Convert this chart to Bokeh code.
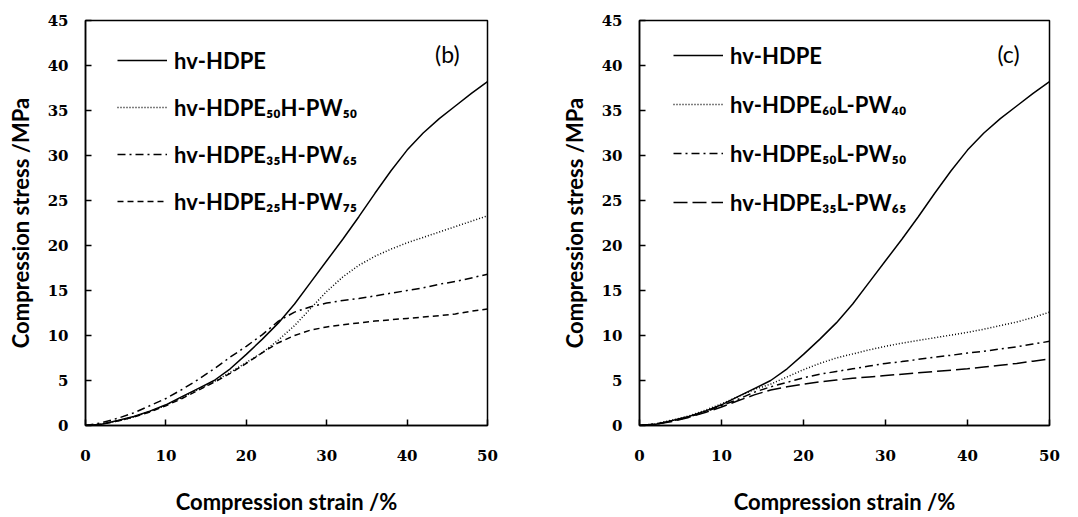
from bokeh.plotting import figure
from bokeh.layouts import row
from bokeh.models import Legend, LegendItem, Label, Range1d, FixedTicker
from bokeh.embed import file_html
from bokeh.resources import INLINE

# ---------------- data ----------------
strain = [0, 2, 4, 6, 8, 10, 12, 14, 16, 18, 20, 22, 24, 26, 28, 30,
          32, 34, 36, 38, 40, 42, 44, 46, 48, 50]

hv_hdpe = [0, 0.15, 0.55, 1.0, 1.6, 2.3, 3.2, 4.1, 5.0, 6.3, 7.9, 9.6, 11.4,
           13.5, 15.9, 18.3, 20.7, 23.2, 25.8, 28.3, 30.6, 32.5, 34.1, 35.5,
           36.9, 38.2]

# panel (b)
h_pw50 = [0, 0.15, 0.5, 0.95, 1.55, 2.25, 3.1, 4.0, 4.9, 5.9, 7.0, 8.1, 9.5,
          11.1, 13.0, 14.9, 16.5, 17.8, 18.8, 19.6, 20.3, 20.9, 21.5, 22.1,
          22.7, 23.3]
h_pw65 = [0, 0.3, 0.8, 1.4, 2.2, 3.0, 4.0, 5.1, 6.3, 7.6, 8.8, 10.1, 11.6,
          12.6, 13.2, 13.6, 13.9, 14.1, 14.4, 14.7, 15.0, 15.3, 15.7, 16.0,
          16.4, 16.8]
h_pw75 = [0, 0.15, 0.5, 0.95, 1.5, 2.2, 3.0, 3.9, 4.8, 5.8, 6.9, 8.1, 9.2,
          10.0, 10.6, 10.95, 11.2, 11.4, 11.6, 11.75, 11.9, 12.05, 12.2, 12.4,
          12.7, 12.95]

# panel (c)
l_pw40 = [0, 0.2, 0.6, 1.05, 1.7, 2.4, 3.2, 4.0, 4.6, 5.4, 6.2, 6.9, 7.5,
          7.95, 8.4, 8.8, 9.15, 9.45, 9.75, 10.05, 10.35, 10.7, 11.1, 11.5,
          12.0, 12.6]
l_pw50 = [0, 0.15, 0.5, 0.95, 1.5, 2.2, 2.9, 3.7, 4.3, 4.8, 5.3, 5.7, 6.0,
          6.3, 6.6, 6.9, 7.1, 7.35, 7.6, 7.8, 8.05, 8.25, 8.5, 8.75, 9.05, 9.35]
l_pw65 = [0, 0.15, 0.45, 0.9, 1.45, 2.05, 2.75, 3.4, 3.95, 4.3, 4.6, 4.85,
          5.05, 5.25, 5.4, 5.55, 5.7, 5.85, 6.0, 6.15, 6.3, 6.5, 6.7, 6.9,
          7.15, 7.4]

labels_b = ["hv-HDPE", "hv-HDPE₅₀H-PW₅₀", "hv-HDPE₃₅H-PW₆₅", "hv-HDPE₂₅H-PW₇₅"]
labels_c = ["hv-HDPE", "hv-HDPE₆₀L-PW₄₀", "hv-HDPE₅₀L-PW₅₀", "hv-HDPE₃₅L-PW₆₅"]
x_ticks = [0, 10, 20, 30, 40, 50]
y_ticks = [0, 5, 10, 15, 20, 25, 30, 35, 40, 45]

TITLE_FONT = "Lato"
TICK_FONT = "DejaVu Serif"


def make_panel(width, bl, br, bb, series, names, dashes, tag, leg_loc, leg_spacing):
    p = figure(width=width, height=517, x_range=Range1d(0, 50), y_range=Range1d(0, 45),
               output_backend="svg", toolbar_location=None,
               min_border_left=bl, min_border_right=br, min_border_top=20,
               min_border_bottom=bb)
    p.grid.visible = False
    p.outline_line_color = "black"
    p.outline_line_width = 1.5
    p.background_fill_color = "white"
    p.border_fill_color = "white"
    p.xaxis.ticker = FixedTicker(ticks=x_ticks)
    p.yaxis.ticker = FixedTicker(ticks=y_ticks)
    for ax in (p.xaxis[0], p.yaxis[0]):
        ax.axis_line_color = "black"
        ax.axis_line_width = 1.5
        ax.major_tick_in = 6
        ax.major_tick_out = 0
        ax.major_tick_line_color = "black"
        ax.major_tick_line_width = 1.5
        ax.minor_tick_line_color = None
        ax.major_label_text_font = TICK_FONT
        ax.major_label_text_font_style = "bold"
        ax.major_label_text_font_size = "15px"
        ax.major_label_text_color = "black"
        ax.axis_label_text_font = TITLE_FONT
        ax.axis_label_text_font_style = "bold"
        ax.axis_label_text_font_size = "22px"
        ax.axis_label_text_color = "black"
    p.xaxis.axis_label = "Compression strain /%"
    p.yaxis.axis_label = "Compression stress /MPa"
    p.xaxis.major_label_standoff = 24
    p.xaxis.axis_label_standoff = 24
    p.yaxis.major_label_standoff = 17
    p.yaxis.axis_label_standoff = 11

    items = []
    for ys, name, dash in zip(series, names, dashes):
        r = p.line(strain, ys, line_color="black", line_width=1.5, line_dash=dash)
        items.append(LegendItem(label=name, renderers=[r]))
    leg = Legend(items=items, location=leg_loc, orientation="vertical",
                 glyph_width=50, glyph_height=30, label_height=30,
                 label_standoff=7, spacing=leg_spacing, padding=0, margin=0,
                 border_line_alpha=0, background_fill_alpha=0,
                 label_text_font=TITLE_FONT, label_text_font_style="bold",
                 label_text_font_size="22px", label_text_color="black")
    p.add_layout(leg, "center")
    p.add_layout(Label(x=45, y=41.3, text=tag, text_align="center",
                       text_baseline="middle", text_font=TITLE_FONT,
                       text_font_size="23px", text_color="black"))
    return p


p1 = make_panel(540, 85, 53, 89, [hv_hdpe, h_pw50, h_pw65, h_pw75], labels_b,
                ["solid", "1 2", "8 4 2 4", "6 4"], "(b)", (32, 209), 17)
p2 = make_panel(538, 99, 29, 92, [hv_hdpe, l_pw40, l_pw50, l_pw65], labels_c,
                ["solid", "1 2", "8 4 2 4", "14 5"], "(c)", (34, 208), 19)

layout = row(p1, p2)
open("out.html", "w").write(file_html(layout, INLINE))
